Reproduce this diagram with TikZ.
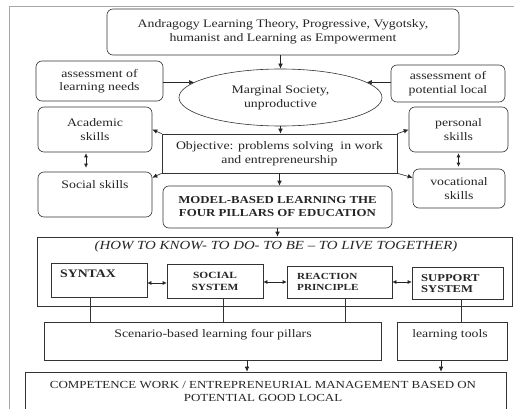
\documentclass[tikz,border=0pt]{standalone}
\usepackage{fontspec}
\setmainfont{Liberation Serif}[FakeStretch=1.2]
\usetikzlibrary{shapes.geometric,arrows.meta,calc}
\begin{document}
\begin{tikzpicture}[x=1pt,y=-1pt,
  box/.style={draw=black!80, line width=0.6pt, inner sep=0pt, text=black!85},
  rbox/.style={box, rounded corners=6pt},
  tip/.style={-{Latex[length=5pt,width=4.5pt]}, line width=0.6pt, draw=black!85},
  dbl/.style={{Latex[length=4pt,width=4pt]}-{Latex[length=4pt,width=4pt]}, line width=0.6pt, draw=black!85},
  ln/.style={line width=0.6pt, draw=black!80},
  txt/.style={text=black!85, inner sep=0pt},
  f11/.style={font=\fontsize{11.5}{13.5}\selectfont, align=center},
]
\clip (0,0) rectangle (514,409);
\fill[white] (0,0) rectangle (514,409);
\draw[gray!70, line width=1pt] (9,7) rectangle (540,440);

\node[rbox, minimum width=352, minimum height=46, f11] (top) at (283,32) {Andragogy Learning Theory, Progressive, Vygotsky,\\humanist and Learning as Empowerment};
\node[rbox, minimum width=127, minimum height=40, f11] (needs) at (99.5,81) {assessment of\\learning needs};
\node[rbox, minimum width=114, minimum height=37, f11] (local) at (448,83.5) {assessment of\\potential local};
\node[box, ellipse, minimum width=203, minimum height=57, f11] (ell) at (280.5,97.5) {Marginal Society,\\unproductive};
\node[box, minimum width=235, minimum height=39, f11] (obj) at (279.5,153.5) {Objective: problems solving\ \ in work\\and entrepreneurship};
\node[rbox, minimum width=114, minimum height=45, f11] (acad) at (95,129.5) {Academic\\skills};
\node[rbox, minimum width=114, minimum height=45] (soc) at (95,194.5) {};
\node[txt, f11] (soct) at (95,185) {Social skills};
\node[rbox, minimum width=99, minimum height=45, f11] (pers) at (458.5,129.5) {personal\\skills};
\node[rbox, minimum width=92, minimum height=39, f11] (voc) at (459,188.5) {vocational\\skills};
\node[rbox, minimum width=229, minimum height=42, font=\bfseries\fontsize{10.7}{13}\selectfont, align=center] (model) at (277.5,207) {MODEL-BASED LEARNING THE\\FOUR PILLARS OF EDUCATION};

\node[box, minimum width=475, minimum height=69] (how) at (274.5,271.5) {};
\node[txt, font=\itshape\fontsize{12.4}{13}\selectfont] (howt) at (276,247) {(HOW TO KNOW- TO DO- TO BE – TO LIVE TOGETHER)};
\node[box, minimum width=96, minimum height=34] (syn) at (99,280) {};
\node[txt, font=\bfseries\fontsize{11.5}{12}\selectfont] (synt) at (88,274) {SYNTAX};
\node[box, minimum width=96, minimum height=34, font=\bfseries\fontsize{9.5}{12}\selectfont, align=center] (ss) at (215,281) {SOCIAL\\SYSTEM};
\node[box, minimum width=105, minimum height=32] (rp) at (339.5,282) {};
\node[txt, anchor=west, align=left, font=\bfseries\fontsize{9.3}{11}\selectfont] (rpt) at (297,281.5) {REACTION\\PRINCIPLE};
\node[box, minimum width=91, minimum height=32] (sup) at (457.5,283) {};
\node[txt, anchor=west, align=left, font=\bfseries\fontsize{10.5}{11.5}\selectfont] (spt) at (421,283.5) {SUPPORT\\SYSTEM};

\node[box, minimum width=337, minimum height=38] (scen) at (212.5,341) {};
\node[txt, f11] (scent) at (213,335) {Scenario-based learning four pillars};
\node[box, minimum width=110, minimum height=38] (tools) at (452,341) {};
\node[txt, f11] (toolst) at (450,335) {learning tools};
\node[box, minimum width=481, minimum height=58] (comp) at (265.5,401) {};
\node[txt, align=center, font=\fontsize{10.8}{13}\selectfont] (compt) at (263,391.5) {COMPETENCE WORK / ENTREPRENEURIAL MANAGEMENT BASED ON\\POTENTIAL GOOD LOCAL};

\draw[tip] (ell.north |- top.south) -- (ell.north);
\draw[tip] (needs.east |- ell.170) -- (ell.170);
\draw[tip] (local.west |- ell.10) -- (ell.10);
\draw[tip] (ell.south) -- (ell.south |- obj.north);
\draw[tip] (obj.north west) -- (acad.east);
\draw[tip] (obj.south west) -- ([yshift=-6pt]soc.north east);
\draw[tip] (obj.north east) -- (pers.west);
\draw[tip] (obj.south east) -- ([yshift=-9pt]voc.north west);
\draw[dbl, shorten <=1pt, shorten >=4pt] ([xshift=-9pt]acad.south) -- ([xshift=-9pt]acad.south |- soc.north);
\draw[dbl, shorten <=1pt, shorten >=2pt] (pers.south) -- (pers.south |- voc.north);
\draw[tip] (obj.south) -- (obj.south |- model.north);
\draw[tip] (model.south) -- (model.south |- how.north);
\draw[dbl] ([yshift=-3pt]syn.east) -- ([yshift=-3pt]syn.east -| ss.west);
\draw[dbl] ([yshift=-1pt]ss.east) -- ([yshift=-1pt]ss.east -| rp.west);
\draw[dbl] (rp.east) -- (rp.east -| sup.west);
\draw[ln] ([xshift=-9pt]syn.south) -- ([xshift=-9pt]syn.south |- scen.north);
\draw[ln] ([xshift=8pt]ss.south) -- ([xshift=8pt]ss.south |- scen.north);
\draw[ln] ([xshift=5.5pt]rp.south) -- ([xshift=5.5pt]rp.south |- scen.north);
\draw[ln] ([xshift=3.5pt]sup.south) -- ([xshift=3.5pt]sup.south |- tools.north);
\draw[tip] ([xshift=34.5pt]scen.south) -- ([xshift=34.5pt]scen.south |- comp.north);
\draw[tip] ([xshift=-11pt]tools.south) -- ([xshift=-11pt]tools.south |- comp.north);
\end{tikzpicture}
\end{document}
